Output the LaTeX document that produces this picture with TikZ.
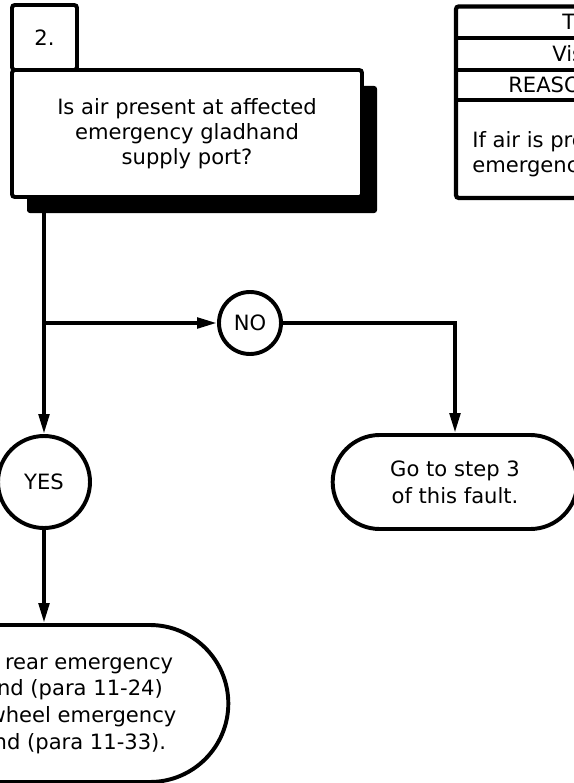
\documentclass[tikz,border=0pt]{standalone}
\usepackage{fontspec}
\setmainfont{DejaVu Sans}
\usetikzlibrary{shapes.geometric, shapes.misc, arrows.meta, positioning, shadows, calc}

\begin{document}
\begin{tikzpicture}[
    box/.style={rectangle, rounded corners=2pt, draw, line width=2.8pt, fill=white, align=center, font=\fontsize{15pt}{18pt}\selectfont},
    answer/.style={circle, draw, line width=2.8pt, fill=white, inner sep=0pt, font=\fontsize{15pt}{18pt}\selectfont},
    endbox/.style={rounded rectangle, draw, line width=2.8pt, fill=white, align=center, font=\fontsize{15pt}{19pt}\selectfont},
    flow/.style={line width=2.8pt, -{Triangle[length=0.5cm, width=0.26cm]}},
    cell/.style={anchor=west, inner sep=0pt, align=left, font=\fontsize{15pt}{18pt}\selectfont}
]

\useasboundingbox (0,0) rectangle (14.35,-19.575);
\fill [white] (0,0) rectangle (14.35,-19.575);
\clip (0,0) rectangle (14.35,-19.575);

% Question box and its step tab
\node (question) [box, minimum width=8.75cm, minimum height=3.175cm,
    drop shadow={shadow xshift=0.375cm, shadow yshift=-0.4cm, opacity=1, fill=black}]
    at (4.675,-3.3375) {Is air present at affected\\emergency gladhand\\supply port?};
\node (step_tab) [box, minimum width=1.625cm, minimum height=1.625cm] at (1.1125,-0.9375) {2.};

% Answers
\node (no) [answer, minimum size=1.55cm] at (6.25,-8.075) {NO};
\node (yes) [answer, minimum size=2.3cm] at (1.1,-12.05) {YES};

% Actions
\node (goto_step) [endbox, minimum width=6.35cm, minimum height=2.35cm] at (11.375,-12.05) {Go to step 3\\of this fault.};
\node (replace) [endbox, minimum width=9.45cm, minimum height=3.925cm] at (1.1,-17.5875)
    {Replace rear emergency\\gladhand (para 11-24)\\or fifth wheel emergency\\gladhand (para 11-33).};

% Connectors
\coordinate (fork) at (yes.north |- no.west);
\draw [flow] (yes.north |- question.south) -- (yes.north);
\draw [flow] (fork) -- (no.west);
\draw [flow] (no.east) -| (goto_step.north);
\draw [flow] (yes.south) -- (replace.north);

% Test table
\draw [line width=3pt, rounded corners=2pt] (11.4,-0.16) rectangle (17,-4.95);
\foreach \y in {-0.95,-1.75,-2.5}
    \draw [line width=3pt] (11.4,\y) -- (17,\y);
\node (test_head) [cell] at (14.05,-0.55) {TEST};
\node (check_head) [cell] at (13.8,-1.35) {Visual};
\node (reason_head) [cell] at (12.7,-2.125) {REASON};
\node (reason_text) [cell] at (11.8,-3.85) {If air is present\\emergency};

\end{tikzpicture}
\end{document}
